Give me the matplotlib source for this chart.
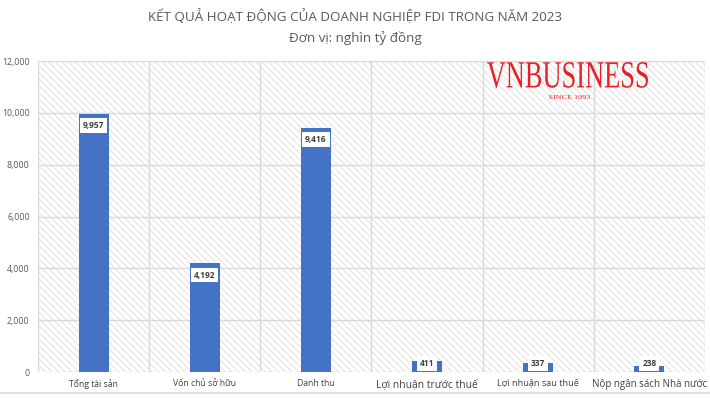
import matplotlib
matplotlib.use("Agg")
import matplotlib.pyplot as plt
from matplotlib.patches import Rectangle, PathPatch
from matplotlib.lines import Line2D
from matplotlib.textpath import TextPath
from matplotlib.font_manager import FontProperties
from matplotlib.transforms import Affine2D, IdentityTransform

categories = ["Tổng tài sản", "Vốn chủ sở hữu", "Danh thu",
              "Lợi nhuận trước thuế", "Lợi nhuận sau thuế", "Nộp ngân sách Nhà nước"]
values = [9957, 4192, 9416, 411, 337, 238]
label_sizes = [6.2, 6.2, 6.2, 7.4, 6.6, 7.0]
yticks = [0, 2000, 4000, 6000, 8000, 10000, 12000]

plt.rcParams['font.family'] = ['Open Sans', 'DejaVu Sans']
plt.rcParams['hatch.linewidth'] = 0.5
plt.rcParams['hatch.color'] = '#d6d6d6'

W, H = 710, 399
fig = plt.figure(figsize=(7.1, 3.99), dpi=100)
ax = fig.add_axes([38/W, 27/H, (705-38)/W, (372-61)/H])

n = len(categories)
ax.set_xlim(-0.5, n - 0.5)
ax.set_ylim(0, 12000)

bg = Rectangle((0, 0), 1, 1, transform=ax.transAxes, facecolor='white',
               edgecolor='#d6d6d6', hatch='\\\\\\\\\\', linewidth=0, zorder=0)
ax.add_patch(bg)

for y in yticks:
    ax.axhline(y, color='#d9d9d9', linewidth=1, zorder=1)
for b in range(n + 1):
    ax.axvline(b - 0.5, color='#d9d9d9', linewidth=1, zorder=1)

x = list(range(n))
ax.bar(x, values, width=0.27, color='#4472C4', zorder=2)

for xi, v in zip(x, values):
    ypos = max(v - 450, 320)
    ax.text(xi, ypos, f"{v:,}", ha='center', va='center', fontsize=6,
            fontweight='bold', color='#404040', zorder=3,
            bbox=dict(boxstyle='square,pad=0.35', facecolor='white', edgecolor='none'))

ax.set_yticks(yticks)
ax.set_yticklabels([f"{t:,}" for t in yticks], fontsize=6.3, color='#595959')
ax.set_xticks(x)
ax.set_xticklabels(categories, color='#404040')
for lbl, s in zip(ax.get_xticklabels(), label_sizes):
    lbl.set_fontsize(s)
ax.tick_params(axis='both', length=0)
ax.tick_params(axis='x', pad=5)
ax.tick_params(axis='y', pad=6)
for sp in ax.spines.values():
    sp.set_visible(False)

fig.text(0.5, 1 - 17/H, "KẾT QUẢ HOẠT ĐỘNG CỦA DOANH NGHIỆP FDI TRONG NĂM 2023",
         ha='center', va='center', fontsize=9.6, color='#595959')
fig.text(0.5, 1 - 38/H, "Đơn vị: nghìn tỷ đồng", ha='center', va='center',
         fontsize=9.6, color='#595959')


def stretched_text(s, x0, x1, ytop, ybot, fontsize_ref=10):
    tp = TextPath((0, 0), s, size=fontsize_ref,
                  prop=FontProperties(family='Liberation Serif'))
    ext = tp.get_extents()
    sx = (x1 - x0) / ext.width
    sy = (ybot - ytop) / ext.height
    tr = (Affine2D().translate(-ext.x0, -ext.y0).scale(sx, sy)
          .translate(x0, H - ybot))
    p = PathPatch(tr.transform_path(tp), facecolor='#ea2027', edgecolor='none',
                  transform=IdentityTransform())
    fig.add_artist(p)


stretched_text("VNBUSINESS", 487, 648, 62, 88)
stretched_text("SINCE 1993", 549, 590, 95, 99)

fig.add_artist(Line2D([0, 1], [1 - 393/H, 1 - 393/H], transform=fig.transFigure,
                      color='#d9d9d9', linewidth=1.2))

fig.savefig("out.png", dpi=100)
